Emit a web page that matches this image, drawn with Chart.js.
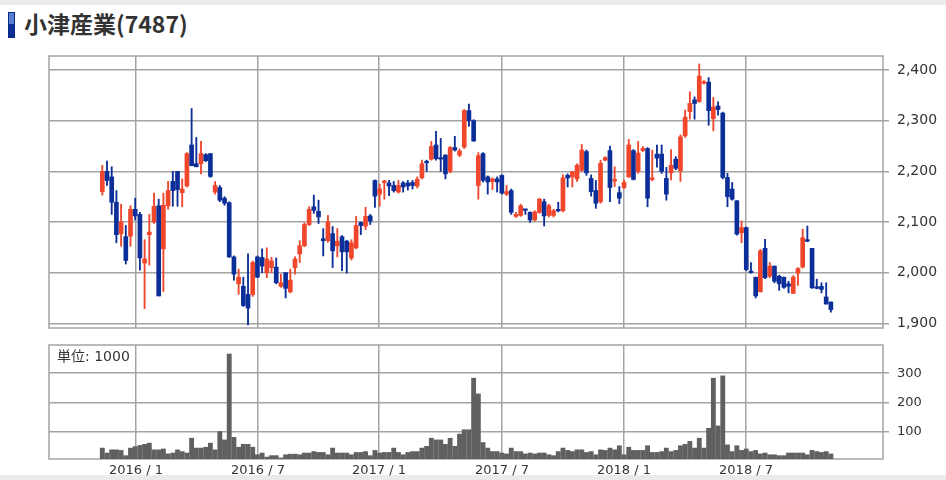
<!DOCTYPE html>
<html>
<head>
<meta charset="utf-8">
<script src="https://cdn.jsdelivr.net/npm/chart.js@4.4.0/dist/chart.umd.min.js"></script>
<style>
body { margin: 0; background: #fff; width: 946px; height: 480px; position: relative; overflow: hidden; font-family: "DejaVu Sans", sans-serif; }
#topbar { position: absolute; left: 0; top: 0; width: 946px; height: 5px; background: #ebebeb; }
#bottombar { position: absolute; left: 0; top: 475px; width: 946px; height: 5px; background: #ebebeb; }
#icon { position: absolute; left: 8px; top: 12px; width: 7px; height: 26px; box-sizing: border-box; border: 1px solid #0a2a88; background: linear-gradient(#5a7fd0 0 45%, #0c2f98 45% 100%); }
#title { position: absolute; left: 24px; top: 12px; font: bold 23px/23px "Noto Sans CJK JP", sans-serif; color: #333; white-space: nowrap; }
#mainChart { position: absolute; left: 0; top: 0; }
#volChart { position: absolute; left: 0; top: 335px; }
#unit { position: absolute; left: 57px; top: 348px; font: 14px/16px "DejaVu Sans", "Noto Sans CJK JP", sans-serif; color: #333; }
</style>
</head>
<body>
<div id="topbar"></div>
<div id="bottombar"></div>
<div id="icon"></div>
<div id="title">小津産業(7487)</div>
<canvas id="mainChart" width="946" height="340"></canvas>
<canvas id="volChart" width="946" height="145"></canvas>
<div id="unit">単位: 1000</div>
<script>
// weekly prices, one entry per week, oldest first
const open = [2160,2200,2189,2139,2077,2071,2072,2125,2115,2019,2075,2100,2132,2047,2132,2180,2200,2158,2171,2252,
  2215,2215,2233,2235,2159,2168,2147,2138,2031,1978,1973,1957,1957,2031,2030,2000,2010,2011,1973,2000,
  1962,2010,2037,2053,2095,2130,2121,2067,2063,2077,2053,2071,2062,2029,2049,2099,2092,2112,2182,2155,
  2178,2177,2172,2159,2177,2177,2178,2171,2187,2220,2224,2252,2227,2232,2200,2247,2232,2248,2320,2300,
  2172,2235,2189,2180,2185,2192,2155,2162,2111,2113,2125,2119,2104,2119,2140,2113,2113,2125,2122,2192,
  2189,2185,2202,2239,2186,2162,2140,2222,2241,2181,2158,2168,2189,2241,2200,2241,2245,2184,2234,2234,
  2186,2197,2224,2201,2270,2318,2341,2338,2374,2376,2304,2329,2315,2188,2165,2142,2079,2089,2003,1991,
  1962,2048,1993,2013,1993,1991,1978,1959,1999,2011,2063,2048,1970,1973,1952,1942]
const high = [2212,2220,2209,2162,2135,2093,2132,2147,2119,2065,2115,2157,2145,2157,2180,2200,2200,2185,2237,2324,
  2267,2259,2235,2235,2180,2172,2150,2140,2033,2007,1991,2037,2023,2033,2047,2049,2030,2029,1997,2000,
  2007,2031,2063,2098,2130,2153,2143,2087,2113,2091,2087,2073,2064,2065,2111,2100,2129,2115,2183,2175,
  2182,2182,2180,2182,2180,2182,2182,2189,2222,2222,2259,2279,2265,2233,2249,2269,2244,2322,2333,2302,
  2237,2237,2191,2187,2189,2193,2172,2165,2119,2135,2125,2120,2122,2147,2145,2135,2125,2139,2193,2195,
  2200,2215,2253,2242,2193,2182,2222,2229,2250,2209,2170,2183,2263,2243,2259,2249,2247,2242,2252,2252,
  2208,2243,2229,2272,2321,2357,2347,2412,2379,2385,2346,2337,2317,2196,2178,2142,2102,2090,2020,1991,
  2046,2066,2020,2013,1995,1991,1983,1994,2010,2086,2092,2048,1987,1980,1980,1942]
const low = [2153,2172,2115,2059,2052,2017,2052,2104,2005,1929,2015,2097,1954,1963,2125,2131,2131,2130,2169,2211,
  2209,2195,2219,2188,2155,2140,2133,2030,1985,1957,1933,1897,1953,1990,2000,1990,2000,1978,1971,1950,
  1960,1997,2020,2051,2093,2117,2097,2033,2060,2010,2031,2004,1999,2025,2047,2075,2085,2095,2129,2131,
  2145,2152,2159,2157,2159,2163,2165,2167,2185,2200,2222,2222,2200,2185,2197,2240,2229,2245,2289,2259,
  2145,2179,2155,2164,2159,2155,2152,2115,2109,2111,2115,2099,2102,2117,2092,2110,2110,2120,2120,2169,
  2169,2180,2200,2192,2151,2127,2137,2221,2140,2170,2136,2166,2188,2183,2196,2239,2130,2181,2208,2196,
  2143,2183,2203,2180,2267,2303,2303,2336,2372,2291,2280,2311,2185,2130,2143,2074,2059,2004,1999,1950,
  1962,1988,1990,1980,1965,1969,1960,1959,1975,2009,2061,1969,1968,1960,1938,1922]
const close = [2200,2182,2139,2075,2100,2024,2125,2112,2029,2027,2080,2131,1954,2133,2162,2162,2164,2165,2235,2211,
  2209,2235,2221,2190,2172,2143,2137,2031,1997,1991,1935,1930,2020,1991,2013,2027,2023,1980,1980,1969,
  1985,2027,2053,2095,2125,2123,2110,2063,2100,2043,2062,2041,2041,2059,2093,2093,2111,2102,2151,2165,
  2181,2171,2162,2172,2169,2171,2172,2184,2215,2217,2249,2225,2224,2195,2247,2242,2240,2320,2300,2260,
  2231,2182,2179,2185,2179,2157,2160,2119,2115,2132,2123,2104,2120,2145,2112,2132,2122,2122,2187,2187,
  2199,2212,2242,2197,2160,2137,2216,2227,2168,2184,2147,2178,2252,2184,2236,2245,2147,2186,2226,2200,
  2155,2212,2206,2268,2307,2334,2334,2388,2377,2320,2327,2322,2188,2150,2145,2076,2089,2006,2000,1954,
  2043,1990,2013,1983,1978,1971,1973,1991,2008,2069,2062,1970,1969,1967,1938,1927]
// weekly volume, thousands of shares
const volume = [43,26,37,37,35,17,43,48,52,56,60,37,37,40,23,26,37,31,26,77,
  43,43,46,60,37,100,71,366,80,46,56,56,46,20,26,12,17,17,9,20,
  22,22,20,26,26,31,28,28,20,43,26,26,26,20,28,28,31,17,35,26,
  28,28,43,28,20,28,31,31,43,49,77,71,71,56,77,49,91,106,106,283,
  229,62,43,31,31,26,23,43,31,31,23,26,23,26,26,20,17,31,43,35,
  31,37,37,28,31,20,37,35,43,37,51,20,46,35,35,35,51,28,28,31,
  43,31,35,51,56,66,43,77,43,111,283,119,291,54,31,51,35,40,31,35,
  23,26,20,20,17,17,26,26,26,26,20,35,31,28,31,23]

// date labels and the week (counted from the first candle) where each month starts
const tickLabels = ['2016 / 1', '2016 / 7', '2017 / 1', '2017 / 7', '2018 / 1', '2018 / 7']
const tickWeeks = [7.17, 33.13, 58.87, 85.04, 111.0, 136.96]
const priceTicks = [1900, 2000, 2100, 2200, 2300, 2400]
const volumeTicks = [100, 200, 300]

const weeks = open.map((v, i) => i)
const upColor = '#f0462b'
const downColor = '#0c2e99'
const gridColor = '#a4a4a4'

function candleColor(ctx) {
    const i = ctx.dataIndex
    return close[i] > open[i] ? upColor : downColor
}

// box round the plot area
const framePlugin = {
    id: 'frame',
    beforeDatasetsDraw(chart) {
        const a = chart.chartArea
        const ctx = chart.ctx
        ctx.save()
        ctx.strokeStyle = gridColor
        ctx.lineWidth = 1.5
        ctx.strokeRect(a.left, a.top, a.right - a.left, a.bottom - a.top)
        ctx.restore()
    }
}

const xRange = { min: -11.34, max: 166.09 }

// keep the label overhang from pushing the plot area around
function noOverhang(s) {
    s.paddingTop = 0
    s.paddingBottom = 0
    s.paddingLeft = 0
    s.paddingRight = 0
}

function xScale(showLabels) {
    return {
        type: 'linear',
        min: xRange.min,
        max: xRange.max,
        offset: false,
        afterBuildTicks: s => { s.ticks = tickWeeks.map(v => ({ value: v })) },
        ticks: {
            display: showLabels,
            autoSkip: false,
            maxRotation: 0,
            padding: 4,
            color: '#333',
            font: { family: 'DejaVu Sans', size: 13 },
            callback: (v, i) => tickLabels[i]
        },
        grid: { color: gridColor, lineWidth: 1.5, drawTicks: false, offset: false },
        border: { display: false },
        afterFit: s => { s.height = showLabels ? 21 : 0; noOverhang(s) }
    }
}

function yScale(min, max, values, size) {
    return {
        position: 'right',
        min: min,
        max: max,
        afterBuildTicks: s => { s.ticks = values.map(v => ({ value: v })) },
        ticks: {
            padding: 8,
            color: '#333',
            font: { family: 'DejaVu Sans', size: size },
            callback: v => v.toLocaleString('en-US')
        },
        grid: { color: gridColor, lineWidth: 1.5, tickLength: 6 },
        border: { display: false },
        afterFit: s => { s.width = 63; noOverhang(s) }
    }
}

//candles: thin bar low-high for the wick, wide bar open-close for the body
new Chart(document.getElementById('mainChart'), {
    type: 'bar',
    data: {
        datasets: [
            {
                data: weeks.map(i => ({ x: i, y: [low[i], high[i]] })),
                backgroundColor: candleColor,
                barThickness: 1.2,
                grouped: false,
                order: 2
            },
            {
                data: weeks.map(i => ({ x: i, y: [open[i], close[i]] })),
                backgroundColor: candleColor,
                barThickness: 4,
                minBarLength: 1.5,
                grouped: false,
                order: 1
            }
        ]
    },
    options: {
        responsive: false,
        animation: false,
        layout: { padding: { left: 49, top: 56, right: 0, bottom: 12 } },
        plugins: { legend: { display: false }, tooltip: { enabled: false } },
        scales: {
            x: xScale(false),
            y: yScale(1890.7, 2427.7, priceTicks, 14)
        }
    },
    plugins: [framePlugin]
})

//volume panel
new Chart(document.getElementById('volChart'), {
    type: 'bar',
    data: {
        datasets: [{
            data: weeks.map(i => ({ x: i, y: volume[i] })),
            backgroundColor: '#606060',
            barThickness: 4.2
        }]
    },
    options: {
        responsive: false,
        animation: false,
        layout: { padding: { left: 49, top: 10, right: 0, bottom: 0 } },
        plugins: { legend: { display: false }, tooltip: { enabled: false } },
        scales: {
            x: xScale(true),
            y: yScale(5.5, 397, volumeTicks, 13)
        }
    },
    plugins: [framePlugin]
})
</script>
</body>
</html>
